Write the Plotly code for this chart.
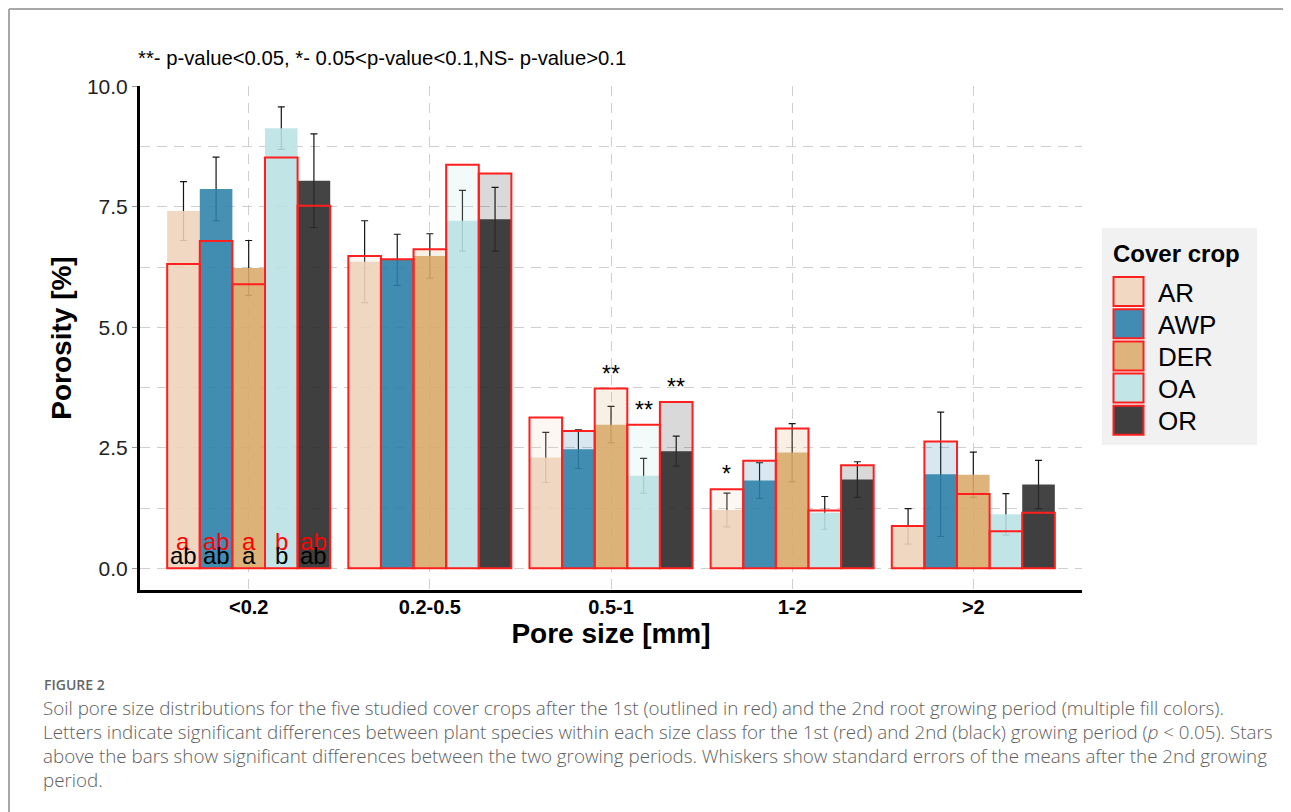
import plotly.graph_objects as go

# ---------------- data ----------------
categories = ["<0.2", "0.2-0.5", "0.5-1", "1-2", ">2"]
crops = ["AR", "AWP", "DER", "OA", "OR"]

# porosity after the 2nd growing period (filled bars)
p2_AR = [7.41, 6.36, 2.30, 1.21, 0.87]
p2_AWP = [7.87, 6.40, 2.47, 1.82, 1.95]
p2_DER = [6.23, 6.48, 2.98, 2.40, 1.94]
p2_OA = [9.13, 7.21, 1.92, 1.15, 1.12]
p2_OR = [8.04, 7.24, 2.43, 1.84, 1.74]

# porosity after the 1st growing period (red outlined bars)
p1_AR = [6.31, 6.48, 3.13, 1.64, 0.88]
p1_AWP = [6.79, 6.41, 2.85, 2.23, 2.63]
p1_DER = [5.89, 6.62, 3.73, 2.90, 1.54]
p1_OA = [8.52, 8.37, 2.98, 1.20, 0.77]
p1_OR = [7.52, 8.19, 3.45, 2.14, 1.15]

# standard errors (2nd period)
se_AR = [0.61, 0.85, 0.52, 0.35, 0.37]
se_AWP = [0.66, 0.53, 0.40, 0.37, 1.29]
se_DER = [0.57, 0.46, 0.38, 0.60, 0.47]
se_OA = [0.44, 0.63, 0.36, 0.34, 0.43]
se_OR = [0.97, 0.66, 0.31, 0.37, 0.50]

# significance letters in the "<0.2" class
letters_1st = ["a", "ab", "a", "b", "ab"]
letters_2nd = ["ab", "ab", "a", "b", "ab"]
letters_category = "<0.2"

# stars (difference between growing periods)
stars_05_1 = ["", "", "**", "**", "**"]
stars_1_2 = ["*", "", "", "", ""]

p2 = {"AR": p2_AR, "AWP": p2_AWP, "DER": p2_DER, "OA": p2_OA, "OR": p2_OR}
p1 = {"AR": p1_AR, "AWP": p1_AWP, "DER": p1_DER, "OA": p1_OA, "OR": p1_OR}
se = {"AR": se_AR, "AWP": se_AWP, "DER": se_DER, "OA": se_OA, "OR": se_OR}
stars = {"0.5-1": stars_05_1, "1-2": stars_1_2}

# ---------------- style ----------------
base_rgb = {
    "AR": (238, 211, 186),
    "AWP": (44, 129, 170),
    "DER": (217, 170, 106),
    "OA": (186, 227, 229),
    "OR": (42, 42, 42),
}
legend_rgb = {
    "AR": (240, 216, 194),
    "AWP": (64, 140, 178),
    "DER": (222, 180, 124),
    "OA": (194, 230, 232),
    "OR": (64, 64, 64),
}
RED = "#ff1f1f"
FONT = "Liberation Sans, Arial, sans-serif"
CAPFONT = "Open Sans, Lato, sans-serif"
GRID = "#cfcfcf"


def rgba(c, a):
    return f"rgba({c[0]},{c[1]},{c[2]},{a})"


fig = go.Figure()

# error-bar carriers (drawn first so the translucent fills cover them)
for c in crops:
    fig.add_trace(go.Bar(
        x=categories, y=p2[c], offsetgroup=c, showlegend=False, hoverinfo="skip",
        marker=dict(color="rgba(0,0,0,0)", line=dict(width=0)),
        error_y=dict(type="data", array=se[c], color="#151515", thickness=1.2, width=3.5),
    ))
# 2nd growing period: filled bars
for c in crops:
    fig.add_trace(go.Bar(
        x=categories, y=p2[c], offsetgroup=c, name=c, showlegend=False,
        marker=dict(color=rgba(base_rgb[c], 0.88), line=dict(width=0)),
    ))
# 1st growing period: red outlined bars
for c in crops:
    fig.add_trace(go.Bar(
        x=categories, y=p1[c], offsetgroup=c, name=c + " (1st)", showlegend=False,
        marker=dict(color=rgba(base_rgb[c], 0.18), line=dict(color=RED, width=2)),
    ))

n = len(crops)
bargap = 0.1
bw = (1 - bargap) / n
annotations = []

# letters
ci = categories.index(letters_category)
for j, c in enumerate(crops):
    xpos = ci - (1 - bargap) / 2 + bw * (j + 0.5)
    annotations.append(dict(x=xpos, y=0.55, xref="x", yref="y", text=letters_1st[j],
                            showarrow=False, yanchor="middle",
                            font=dict(family=FONT, size=24, color="#ff0000")))
    annotations.append(dict(x=xpos, y=0.26, xref="x", yref="y", text=letters_2nd[j],
                            showarrow=False, yanchor="middle",
                            font=dict(family=FONT, size=24, color="#000000")))
# stars
for cat, st in stars.items():
    ci = categories.index(cat)
    for j, c in enumerate(crops):
        if st[j]:
            xpos = ci - (1 - bargap) / 2 + bw * (j + 0.5)
            annotations.append(dict(x=xpos, y=p1[c][ci] + 0.31, xref="x", yref="y",
                                    text=st[j], showarrow=False, yanchor="middle",
                                    font=dict(family=FONT, size=23, color="#000000")))

# ---------------- layout geometry ----------------
# the page has an 8px body margin, so the figure starts at screen (8, 8)
OFF = 8
W, H = 1291 - OFF, 812 - OFF
ML, MR, MT, MB = 140 - OFF, 209, 86 - OFF, 222
PW, PH = W - ML - MR, H - MT - MB


def px(xs):
    """screen x -> paper x"""
    return (xs - OFF - ML) / PW


def py(ys):
    """screen y -> paper y"""
    return (H - MB - (ys - OFF)) / PH


# subtitle note
annotations.append(dict(x=px(136), y=py(58), xref="paper", yref="paper", xanchor="left",
                        yanchor="middle", showarrow=False,
                        text="**- p-value<0.05, *- 0.05<p-value<0.1,NS- p-value>0.1",
                        font=dict(family=FONT, size=20.3, color="#000000")))

# manual legend
shapes = []
shapes.append(dict(type="rect", xref="paper", yref="paper", x0=px(1102), x1=px(1257),
                   y0=py(445), y1=py(228), fillcolor="#f1f1f1", line=dict(width=0), layer="below"))
annotations.append(dict(x=px(1111), y=py(253), xref="paper", yref="paper", xanchor="left",
                        yanchor="middle", showarrow=False, text="<b>Cover crop</b>",
                        font=dict(family=FONT, size=24, color="#000000")))
for j, c in enumerate(crops):
    cy = 291.5 + 32.2 * j
    shapes.append(dict(type="rect", xref="paper", yref="paper", x0=px(1113.5), x1=px(1143.5),
                       y0=py(cy + 14.5), y1=py(cy - 14.5), fillcolor=rgba(legend_rgb[c], 1),
                       line=dict(color=RED, width=2)))
    annotations.append(dict(x=px(1156), y=py(cy + 1), xref="paper", yref="paper", xanchor="left",
                            yanchor="middle", showarrow=False, text=c,
                            font=dict(family=FONT, size=26, color="#000000")))

# page frame (top and left border of the figure box)
shapes.append(dict(type="line", xref="paper", yref="paper", x0=px(9), x1=px(1291), y0=py(9), y1=py(9),
                   line=dict(color="#a8a8a8", width=2)))
shapes.append(dict(type="line", xref="paper", yref="paper", x0=px(9), x1=px(9), y0=py(9), y1=py(812),
                   line=dict(color="#a8a8a8", width=2)))

# caption
annotations.append(dict(x=px(42), y=py(684), xref="paper", yref="paper", xanchor="left",
                        yanchor="middle", showarrow=False, text="FIGURE 2",
                        font=dict(family=CAPFONT, size=14, color="#666666", weight=600)))
caption_lines = [
    "Soil pore size distributions for the five studied cover crops after the 1st (outlined in red) and the 2nd root growing period (multiple fill colors).",
    "Letters indicate significant differences between plant species within each size class for the 1st (red) and 2nd (black) growing period (<i>p</i> &lt; 0.05). Stars",
    "above the bars show significant differences between the two growing periods. Whiskers show standard errors of the means after the 2nd growing",
    "period.",
]
for k, line in enumerate(caption_lines):
    annotations.append(dict(x=px(41), y=py(708 + 24 * k), xref="paper", yref="paper",
                            xanchor="left", yanchor="middle", showarrow=False, text=line,
                            font=dict(family=CAPFONT, size=18.8, color="#5e5e5e", weight=300)))

fig.update_layout(
    width=W, height=H,
    margin=dict(l=ML, r=MR, t=MT, b=MB, pad=0),
    paper_bgcolor="white", plot_bgcolor="white",
    barmode="group", bargap=bargap, bargroupgap=0,
    showlegend=False,
    font=dict(family=FONT, color="#000000"),
    annotations=annotations, shapes=shapes,
    xaxis=dict(
        type="category", range=[-0.6, 4.6],
        showline=True, linecolor="black", linewidth=3,
        showgrid=True, gridcolor=GRID, griddash="10px,7px", gridwidth=1.3,
        ticks="", ticklabelstandoff=-3,
        tickfont=dict(family=FONT, size=20, color="#000000", weight="bold"),
        title=dict(text="<b>Pore size [mm]</b>", font=dict(family=FONT, size=28, color="#000000"),
                   standoff=0),
        zeroline=False,
    ),
    yaxis=dict(
        range=[-0.45, 10.005], dtick=2.5, tick0=0, tickformat=".1f",
        showline=True, linecolor="black", linewidth=3,
        showgrid=True, gridcolor=GRID, griddash="10px,7px", gridwidth=1.3,
        minor=dict(dtick=1.25, tick0=0, showgrid=True, gridcolor=GRID, griddash="10px,7px",
                   gridwidth=1.3, ticks=""),
        ticks="outside", ticklen=5, tickcolor="#999999",
        tickfont=dict(family=FONT, size=21, color="#222222"),
        title=dict(text="<b>Porosity [%]</b>", font=dict(family=FONT, size=28, color="#000000"),
                   standoff=8),
        zeroline=False,
    ),
)

fig.write_html("out.html")
